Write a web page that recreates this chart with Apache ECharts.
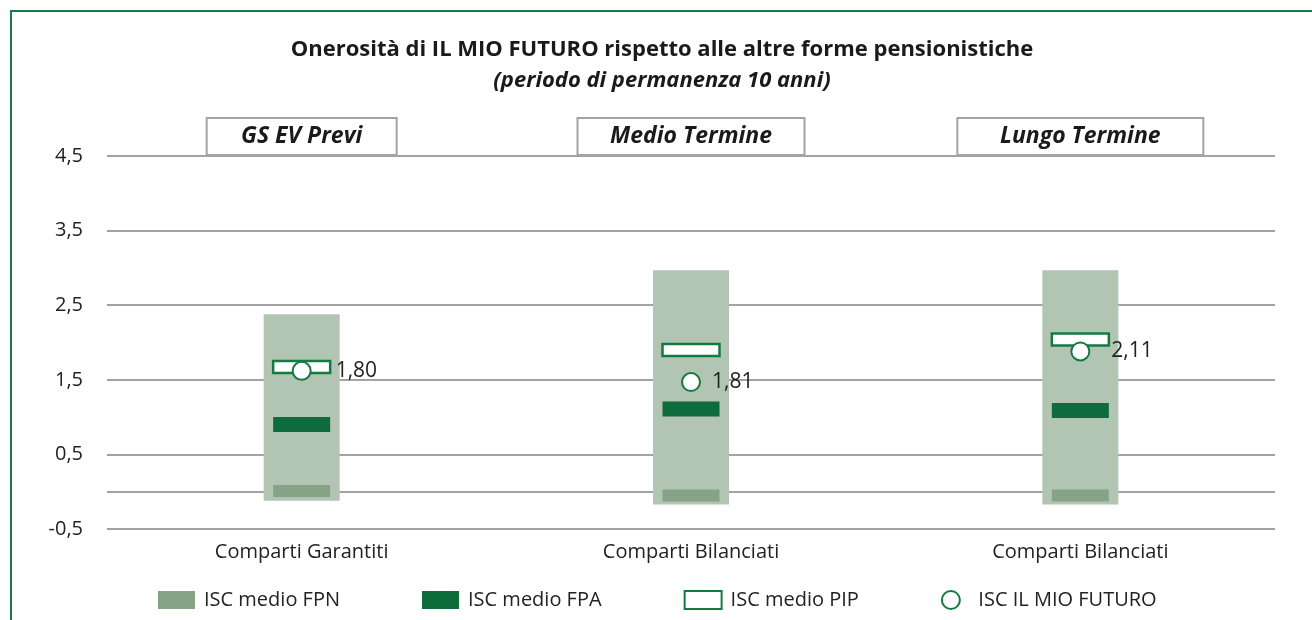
<!DOCTYPE html>
<html>
<head>
<meta charset="utf-8">
<script src="https://cdn.jsdelivr.net/npm/echarts@6/dist/echarts.min.js"></script>
<style>
  html, body { margin: 0; padding: 0; background: #fff; overflow: hidden; }
  #chart { position: absolute; left: 0; top: 0; width: 1312px; height: 620px; }
  #frame { position: absolute; left: 10px; top: 10px; width: 1330px; height: 640px;
           border-left: 2.5px solid #1d7a46; border-top: 2.5px solid #1d7a46; pointer-events: none; }
</style>
</head>
<body>
<div id="chart"></div>
<div id="frame"></div>
<script>
'use strict';

// categorie e intestazioni
const categories = ['Comparti Garantiti', 'Comparti Bilanciati', 'Comparti Bilanciati'];
const headers = ['GS EV Previ', 'Medio Termine', 'Lungo Termine'];

// fascia min-max (sfondo chiaro)
const rangeLow = [-0.12, -0.17, -0.17];
const rangeHigh = [2.38, 2.97, 2.97];

// ISC medi
const iscFPN = [0.01, -0.05, -0.05];
const iscFPA = [0.90, 1.11, 1.09];
const iscPIP = [1.67, 1.90, 2.04];
const iscMioFuturo = [1.62, 1.47, 1.88];
const mioFuturoLabels = ['1,80', '1,81', '2,11'];

// linee di griglia e etichette asse
const gridValues = [-0.5, 0, 0.5, 1.5, 2.5, 3.5, 4.5];

const FONT = 'Open Sans';
const GREEN = '#137a40';
const headerWidths = [188, 225, 244];
const labelGaps = [24, 11, 21];

const chart = echarts.init(document.getElementById('chart'));

const headerRich = {};
headerWidths.forEach((w, i) => {
    headerRich['b' + i] = {
        width: w, height: 35, align: 'center',
        borderColor: '#a3a3a3', borderWidth: 2, backgroundColor: '#fff',
        fontFamily: FONT, fontSize: 23, fontWeight: 'bold', fontStyle: 'italic', color: '#1a1a1a'
    };
});

// rettangolo centrato sul valore, larghezza/altezza in pixel
function markerSeries(name, values, w, h, style, z) {
    return {
        name: name, type: 'custom', z: z,
        itemStyle: { color: style.fill, borderColor: style.stroke || style.fill, borderWidth: style.lineWidth || 0 },
        data: values.map((v, i) => [i, v]),
        encode: { x: 0, y: 1 },
        renderItem: (params, api) => {
            const p = api.coord([api.value(0), api.value(1)]);
            return {
                type: 'rect',
                shape: { x: p[0] - w / 2, y: p[1] - h / 2, width: w, height: h },
                style: style
            };
        }
    };
}

const option = {
    animation: false,
    title: {
        text: 'Onerosità di IL MIO FUTURO rispetto alle altre forme pensionistiche',
        subtext: '(periodo di permanenza 10 anni)',
        left: 657, textAlign: 'center', top: 34, itemGap: 9,
        textStyle: { fontFamily: FONT, fontSize: 22, fontWeight: 'bold', color: '#1a1a1a' },
        subtextStyle: { fontFamily: FONT, fontSize: 22, fontWeight: 'bold', fontStyle: 'italic', color: '#1a1a1a' }
    },
    grid: { left: 107, right: 37, top: 156, bottom: 91, containLabel: false },
    legend: {
        bottom: 5, left: 153, itemWidth: 37, itemHeight: 18, itemGap: 82,
        textStyle: { fontFamily: FONT, fontSize: 20, color: '#222', padding: [0, 0, 0, 4] },
        data: [
            { name: 'ISC medio FPN', icon: 'rect' },
            { name: 'ISC medio FPA', icon: 'rect' },
            { name: 'ISC medio PIP', icon: 'rect' },
            { name: 'ISC IL MIO FUTURO', icon: 'circle' }
        ]
    },
    xAxis: [{
        type: 'category', data: categories, position: 'bottom',
        axisLine: { show: false }, axisTick: { show: false },
        axisLabel: { margin: 13, fontFamily: FONT, fontSize: 20, color: '#222' }
    }, {
        type: 'category', data: headers, position: 'top',
        axisLine: { show: false }, axisTick: { show: false },
        axisLabel: {
            margin: 2,
            formatter: (v, i) => '{b' + i + '|' + v + '}',
            rich: headerRich
        }
    }],
    yAxis: {
        type: 'value', min: -0.5, max: 4.5, interval: 0.5,
        axisLine: { show: false }, axisTick: { show: false }, splitLine: { show: false },
        axisLabel: {
            margin: 24, fontFamily: FONT, fontSize: 20, color: '#222',
            formatter: v => Math.abs((v + 0.5) % 1) < 1e-6 ? v.toFixed(1).replace('.', ',') : ''
        }
    },
    series: [{
        name: 'range', type: 'custom', z: 2,
        data: categories.map((c, i) => [i, rangeLow[i], rangeHigh[i]]),
        encode: { x: 0, y: [1, 2] },
        renderItem: (params, api) => {
            const lo = api.coord([api.value(0), api.value(1)]);
            const hi = api.coord([api.value(0), api.value(2)]);
            const w = 76;
            return {
                type: 'rect',
                shape: { x: lo[0] - w / 2, y: hi[1], width: w, height: lo[1] - hi[1] },
                style: { fill: '#b1c5b2' }
            };
        },
        markLine: {
            z: 1, silent: true, symbol: 'none', label: { show: false },
            lineStyle: { color: '#a3a3a3', width: 2, type: 'solid' },
            data: gridValues.map(v => ({ yAxis: v }))
        }
    },
    markerSeries('ISC medio FPN', iscFPN, 57, 12, { fill: '#86a387' }, 3),
    markerSeries('ISC medio FPA', iscFPA, 57, 15, { fill: '#0d6b3c' }, 3),
    markerSeries('ISC medio PIP', iscPIP, 57, 12, { fill: '#fff', stroke: GREEN, lineWidth: 2.5 }, 4),
    {
        name: 'ISC IL MIO FUTURO', type: 'scatter', z: 5,
        symbol: 'circle', symbolSize: 18,
        itemStyle: { color: '#fff', borderColor: GREEN, borderWidth: 2, opacity: 1 },
        data: iscMioFuturo.map((v, i) => ({
            value: v,
            label: {
                show: true, position: 'right', distance: labelGaps[i],
                formatter: mioFuturoLabels[i],
                fontFamily: FONT, fontSize: 21, color: '#222'
            }
        }))
    }]
};

chart.setOption(option);
</script>
</body>
</html>
